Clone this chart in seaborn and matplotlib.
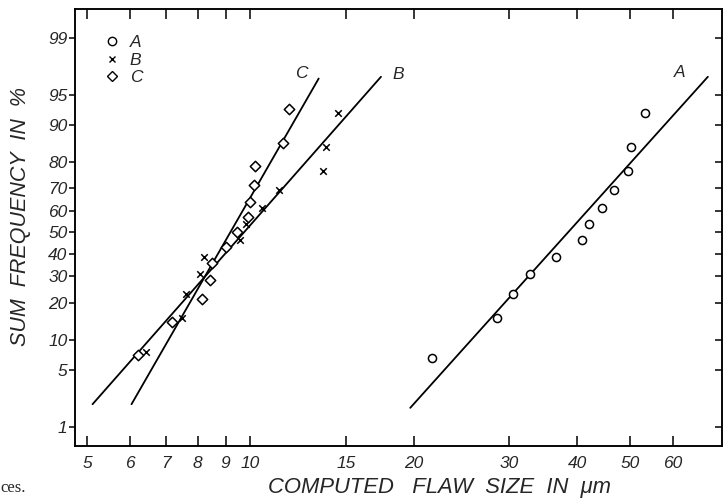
import math
import numpy as np
import pandas as pd
import matplotlib
matplotlib.use("Agg")
import matplotlib.pyplot as plt
from matplotlib.lines import Line2D
from matplotlib.ticker import FixedLocator, FixedFormatter, NullLocator
import seaborn as sns

# ---------------- data ----------------
size_A = [21.6, 28.5, 30.4, 32.8, 36.5, 40.8, 42.0, 44.5, 46.8, 49.5, 50.3, 53.4]
freq_A = [6.7, 15.4, 23.1, 30.8, 38.5, 46.2, 53.8, 61.5, 69.2, 76.9, 84.6, 92.3]

size_B = [6.43, 7.47, 7.62, 8.07, 8.22, 9.57, 9.81, 10.5, 11.3, 13.6, 13.8, 14.5]
freq_B = [7.7, 15.4, 23.1, 30.8, 38.5, 46.2, 53.8, 61.5, 69.2, 76.9, 84.6, 92.3]

size_C = [6.20, 7.18, 8.16, 8.43, 8.51, 9.01, 9.43, 9.90, 10.0, 10.17, 10.19, 11.5, 11.8]
freq_C = [7.1, 14.3, 21.4, 28.6, 35.7, 42.9, 50.0, 57.1, 64.3, 71.4, 78.6, 85.7, 92.9]

# fitted straight lines (end points)
line_A_size = [19.7, 69.6]
line_A_freq = [1.8, 96.85]
line_B_size = [5.12, 17.4]
line_B_freq = [2.0, 96.85]
line_C_size = [6.04, 13.36]
line_C_freq = [2.0, 96.7]

series_names = ["A", "B", "C"]
line_label_size = [61.7, 18.7, 12.4]
line_label_freq = [97.2, 97.0, 97.1]

x_ticks = [5, 6, 7, 8, 9, 10, 15, 20, 30, 40, 50, 60]
y_ticks = [1, 5, 10, 20, 30, 40, 50, 60, 70, 80, 90, 95, 99]

# ---------------- probability scale helpers ----------------
_erf = np.vectorize(math.erf)


def _ppf(p):
    p = np.clip(np.asarray(p, float), 1e-12, 1 - 1e-12)
    a = [-3.969683028665376e+01, 2.209460984245205e+02, -2.759285104469687e+02,
         1.383577518672690e+02, -3.066479806614716e+01, 2.506628277459239e+00]
    b = [-5.447609879822406e+01, 1.615858368580409e+02, -1.556989798598866e+02,
         6.680131188771972e+01, -1.328068155288572e+01]
    c = [-7.784894002430293e-03, -3.223964580411365e-01, -2.400758277161838e+00,
         -2.549732539343734e+00, 4.374664141464968e+00, 2.938163982698783e+00]
    d = [7.784695709041462e-03, 3.224671290700398e-01, 2.445134137142996e+00,
         3.754408661907416e+00]
    plow = 0.02425
    out = np.empty_like(p)
    lo = p < plow
    hi = p > 1 - plow
    mid = ~(lo | hi)
    if lo.any():
        q = np.sqrt(-2 * np.log(p[lo]))
        out[lo] = (((((c[0]*q+c[1])*q+c[2])*q+c[3])*q+c[4])*q+c[5]) / \
                  ((((d[0]*q+d[1])*q+d[2])*q+d[3])*q+1)
    if hi.any():
        q = np.sqrt(-2 * np.log(1 - p[hi]))
        out[hi] = -(((((c[0]*q+c[1])*q+c[2])*q+c[3])*q+c[4])*q+c[5]) / \
                   ((((d[0]*q+d[1])*q+d[2])*q+d[3])*q+1)
    if mid.any():
        q = p[mid] - 0.5
        r = q * q
        out[mid] = (((((a[0]*r+a[1])*r+a[2])*r+a[3])*r+a[4])*r+a[5]) * q / \
                   (((((b[0]*r+b[1])*r+b[2])*r+b[3])*r+b[4])*r+1)
    return out


def fwd(pct):
    return _ppf(np.asarray(pct, float) / 100.0)


def inv(z):
    z = np.clip(np.asarray(z, float), -40, 40)
    return 50.0 * (1.0 + _erf(z / math.sqrt(2.0)))


# ---------------- style ----------------
sns.set_style("ticks")
plt.rcParams["font.family"] = ["Liberation Sans", "DejaVu Sans"]
plt.rcParams["font.style"] = "italic"

fig = plt.figure(figsize=(7.27, 4.99), dpi=100)
ax = fig.add_axes([75 / 727, 1 - 446 / 499, 647 / 727, 437 / 499])

# fitted lines
lines_df = pd.DataFrame({
    "size": line_A_size + line_B_size + line_C_size,
    "freq": line_A_freq + line_B_freq + line_C_freq,
    "series": ["A"] * 2 + ["B"] * 2 + ["C"] * 2,
})
sns.lineplot(data=lines_df, x="size", y="freq", hue="series", units="series",
             estimator=None, sort=False, palette=["black"] * 3, linewidth=1.3,
             legend=False, ax=ax, zorder=2)

dfA = pd.DataFrame({"size": size_A, "freq": freq_A})
dfB = pd.DataFrame({"size": size_B, "freq": freq_B})
dfC = pd.DataFrame({"size": size_C, "freq": freq_C})
sns.scatterplot(data=dfA, x="size", y="freq", marker="o", s=34, facecolor="white",
                edgecolor="black", linewidth=1.1, ax=ax, zorder=3)
sns.scatterplot(data=dfB, x="size", y="freq", marker="x", s=22, color="black",
                linewidth=1.1, ax=ax, zorder=3)
sns.scatterplot(data=dfC, x="size", y="freq", marker="D", s=28, facecolor="white",
                edgecolor="black", linewidth=1.1, ax=ax, zorder=3)

# scales
ax.set_xscale("log")
ax.set_yscale("function", functions=(fwd, inv))
ax.set_xlim(4.753, 73.9)
ax.set_ylim(0.534, 99.62)

ax.xaxis.set_major_locator(FixedLocator(x_ticks))
ax.xaxis.set_major_formatter(FixedFormatter([str(t) for t in x_ticks]))
ax.xaxis.set_minor_locator(NullLocator())
ax.yaxis.set_major_locator(FixedLocator(y_ticks))
ax.yaxis.set_major_formatter(FixedFormatter([str(t) for t in y_ticks]))
ax.yaxis.set_minor_locator(NullLocator())

ax.tick_params(axis="x", which="major", direction="in", top=True, bottom=True,
               length=7, width=1.1, labelsize=12.5, pad=7, color="black")
ax.tick_params(axis="y", which="major", direction="out", left=True, right=False,
               length=4, width=1.1, labelsize=12.5, pad=1.5, color="black")
for lab in ax.get_xticklabels() + ax.get_yticklabels():
    lab.set_fontstyle("italic")

# right-hand inward ticks
ax2 = ax.twinx()
ax2.set_yscale("function", functions=(fwd, inv))
ax2.set_ylim(ax.get_ylim())
ax2.yaxis.set_major_locator(FixedLocator(y_ticks))
ax2.yaxis.set_minor_locator(NullLocator())
ax2.tick_params(axis="y", direction="in", length=5, width=1.1, labelright=False,
                color="black")
for a in (ax, ax2):
    for sp in a.spines.values():
        sp.set_visible(True)
        sp.set_color("black")
        sp.set_linewidth(1.1)

ax.set_xlabel("")
ax.set_ylabel("")

# series labels at the line ends
for name, xs, ys in zip(series_names, line_label_size, line_label_freq):
    ax.text(xs, ys, name, fontsize=12.5, fontstyle="italic", ha="center",
            va="center", zorder=4)

# legend
handles = [
    Line2D([], [], marker="o", linestyle="none", markerfacecolor="white",
           markeredgecolor="black", markersize=6, markeredgewidth=1.0),
    Line2D([], [], marker="x", linestyle="none", color="black",
           markersize=4.5, markeredgewidth=1.0),
    Line2D([], [], marker="D", linestyle="none", markerfacecolor="white",
           markeredgecolor="black", markersize=5, markeredgewidth=1.0),
]
leg = ax.legend(handles, series_names, loc="upper left",
                bbox_to_anchor=(0.043, 0.94), frameon=False, fontsize=12.5,
                handlelength=1.0, handletextpad=0.55, labelspacing=0.12,
                borderpad=0, borderaxespad=0)
for t in leg.get_texts():
    t.set_fontstyle("italic")

# axis titles
fig.text(21 / 727, 1 - 216 / 499, "SUM  FREQUENCY  IN  %", rotation=90,
         fontsize=15.5, fontstyle="italic", ha="center", va="center")
fig.text(440 / 727, 1 - 487 / 499, "COMPUTED   FLAW  SIZE  IN  \u03bcm",
         fontsize=15.8, fontstyle="italic", ha="center", va="center")

# stray caption fragment at the page edge
fig.text(0.0, 1 - 492 / 499, "ces.", fontsize=12, family="Liberation Serif",
         fontstyle="normal", ha="left", va="baseline")

fig.savefig("out.png", dpi=100)
